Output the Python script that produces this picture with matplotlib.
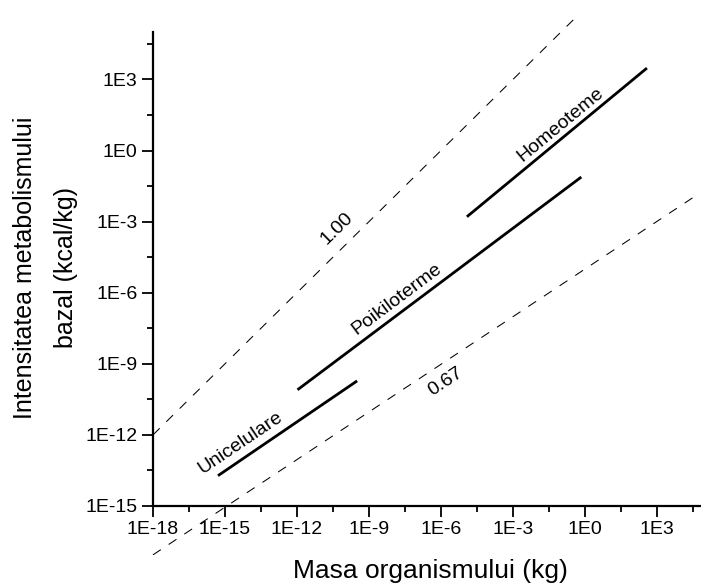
import numpy as np
import matplotlib
matplotlib.use("Agg")
import matplotlib.pyplot as plt
from matplotlib.ticker import FixedLocator, FixedFormatter, NullFormatter

plt.rcParams['font.family'] = ['Liberation Sans', 'DejaVu Sans']

# mass (kg) / basal metabolic rate (kcal/kg) - segment endpoints
uni_mass = [5.1e-16, 3.2e-10]
uni_rate = [1.9e-14, 1.9e-10]
poik_mass = [1.05e-12, 0.7]
poik_rate = [8.0e-11, 0.076]
homeo_mass = [1.2e-5, 380]
homeo_rate = [1.6e-3, 3000]

# reference lines (slopes 1.00 and 0.67)
ref100_mass = [1e-18, 0.47]
ref100_rate = [1e-12, 4.7e5]
ref067_mass = [1e-18, 6.3e4]
ref067_rate = [8.7e-18, 1.64e-2]

major_exps = [-18, -15, -12, -9, -6, -3, 0, 3]
x_ticks = [10.0 ** e for e in major_exps]
x_labels = ["1E%d" % e for e in major_exps]
y_ticks = x_ticks[1:]
y_labels = x_labels[1:]
minor_ticks = [10.0 ** (e + 1.5) for e in major_exps]

fig = plt.figure(figsize=(7.01, 5.85), dpi=100)
ax = fig.add_axes([153 / 701, 79 / 585, 552 / 701, 474 / 585])

ax.set_xscale('log')
ax.set_yscale('log')
ax.set_xlim(1e-18, 1e5)
ax.set_ylim(1e-15, 1e5)

for m, r in [(uni_mass, uni_rate), (poik_mass, poik_rate), (homeo_mass, homeo_rate)]:
    ax.plot(m, r, color='black', lw=2.0, solid_capstyle='butt')

for m, r in [(ref100_mass, ref100_rate), (ref067_mass, ref067_rate)]:
    ax.plot(m, r, color='black', lw=0.75, linestyle=(0, (9, 9)), clip_on=False)

txt = dict(fontsize=14, ha='center', va='center', rotation_mode='anchor')
ax.text(10 ** -10.32, 10 ** -3.27, "1.00", rotation=44.5, **txt)
ax.text(10 ** -5.8, 10 ** -9.76, "0.67", rotation=33.4, **txt)
ax.text(10 ** -14.34, 10 ** -12.33, "Unicelulare", rotation=34, **txt)
ax.text(10 ** -7.83, 10 ** -6.26, "Poikiloterme", rotation=36.8, **txt)
ax.text(10 ** -1.03, 10 ** 1.08, "Homeoteme", rotation=39.5, **txt)

ax.xaxis.set_major_locator(FixedLocator(x_ticks))
ax.xaxis.set_major_formatter(FixedFormatter(x_labels))
ax.yaxis.set_major_locator(FixedLocator(y_ticks))
ax.yaxis.set_major_formatter(FixedFormatter(y_labels))
ax.xaxis.set_minor_locator(FixedLocator(minor_ticks))
ax.yaxis.set_minor_locator(FixedLocator(minor_ticks[1:]))
ax.xaxis.set_minor_formatter(NullFormatter())
ax.yaxis.set_minor_formatter(NullFormatter())

ax.tick_params(which='major', direction='out', length=8, width=1.3, labelsize=14, pad=3)
ax.tick_params(which='minor', direction='out', length=4.5, width=1.3)

for s in ['top', 'right']:
    ax.spines[s].set_visible(False)
for s in ['left', 'bottom']:
    ax.spines[s].set_linewidth(1.6)

fig.text(25 / 701, 1 - 268 / 585, "Intensitatea metabolismului", rotation=90,
         ha='center', va='center', fontsize=18)
fig.text(66 / 701, 1 - 268 / 585, "bazal (kcal/kg)", rotation=90,
         ha='center', va='center', fontsize=18)
fig.text(430 / 701, 1 - 571 / 585, "Masa organismului (kg)",
         ha='center', va='center', fontsize=19)

fig.savefig("out.png", dpi=100)
